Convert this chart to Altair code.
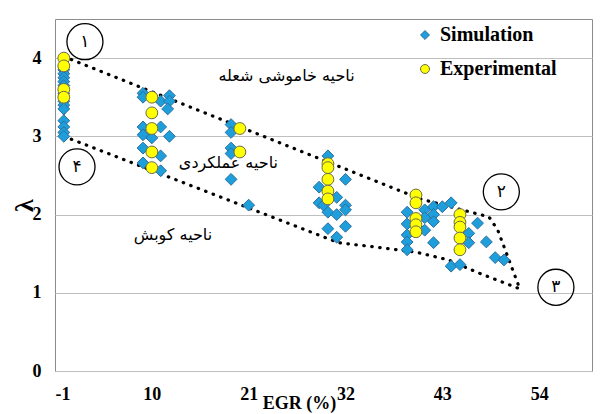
import altair as alt
import pandas as pd

# ---- data ----
sim_x = [0, 0, 0, 0, 0, 0, 0, 0, 0, 0, 0, 0, 0,
         9, 9, 11, 12, 12, 11.8, 9, 9, 11, 10, 12, 9, 11, 9, 11,
         19, 19, 19, 19, 19, 21,
         30, 32, 29, 29, 29.5, 31, 32, 30, 31, 32, 30, 32, 31,
         39, 39, 39, 39, 39, 41, 41, 41, 42, 42, 42, 42, 43, 44,
         46, 46, 47, 48, 49, 50, 44, 45]
sim_y = [3.85, 3.8, 3.75, 3.7, 3.65, 3.55, 3.45, 3.4, 3.35, 3.2, 3.12, 3.05, 3.0,
         3.55, 3.5, 3.45, 3.52, 3.45, 3.35, 3.12, 3.02, 3.12, 2.98, 3.0, 2.85, 2.75, 2.66, 2.56,
         3.15, 3.05, 2.85, 2.78, 2.45, 2.12,
         2.75, 2.45, 2.35, 2.15, 2.12, 2.22, 2.12, 2.03, 2.0, 2.06, 1.82, 1.85, 1.71,
         2.03, 1.88, 1.74, 1.65, 1.55, 2.06, 1.96, 1.8, 2.1, 2.0, 1.91, 1.64, 2.1, 2.15,
         1.76, 1.64, 1.89, 1.65, 1.45, 1.42, 1.34, 1.36]
exp_x = [0, 0, 0, 0,
         10, 10, 10, 10, 10,
         20, 20,
         30, 30, 30, 30, 30,
         40, 40, 40, 40, 40,
         45, 45, 45, 45, 45]
exp_y = [4.0, 3.9, 3.6, 3.5,
         3.5, 3.3, 3.1, 2.8, 2.6,
         3.1, 2.8,
         2.65, 2.6, 2.45, 2.3, 2.2,
         2.25, 2.15, 1.95, 1.87, 1.78,
         2.0, 1.9, 1.84, 1.7, 1.55]

series_names = ["Simulation", "Experimental"]

# dotted region boundary (in data units)
bound_x = [0, 40.5, 48.3, 49.3, 51.8, 47.2, 43.7, 40, 35, 31.2, 0, 0]
bound_y = [4.02, 2.2, 1.97, 1.8, 1.05, 1.25, 1.42, 1.52, 1.59, 1.64, 3.0, 4.02]

# region labels
region_text = ["ناحیه خاموشی شعله", "ناحیه عملکردی", "ناحیه کوبش"]
region_x = [25.3, 18.7, 12.4]
region_y = [3.77, 2.66, 1.74]

# numbered circles
num_text = ["۱", "۴", "۲", "۳"]
num_x = [2.4, 1.5, 49.7, 55.9]
num_y = [4.21, 2.61, 2.29, 1.07]

x_ticks = [-1, 10, 21, 32, 43, 54]
y_ticks = [0, 0.5, 1, 1.5, 2, 2.5, 3, 3.5, 4, 4.5]

# ---- tables ----
pts = pd.DataFrame({
    "x": sim_x + exp_x,
    "y": sim_y + exp_y,
    "series": ["Simulation"] * len(sim_x) + ["Experimental"] * len(exp_x),
})
bound = pd.DataFrame({"x": bound_x, "y": bound_y, "o": list(range(len(bound_x)))})
regions = pd.DataFrame({"x": region_x, "y": region_y, "t": region_text})
nums = pd.DataFrame({"x": num_x, "y": num_y, "t": num_text})

SERIF = "Liberation Serif"

xscale = alt.Scale(domain=[-1, 60], nice=False, zero=False)
yscale = alt.Scale(domain=[0, 4.5], nice=False)

xenc = alt.X("x:Q", scale=xscale, axis=alt.Axis(
    values=x_ticks, title="EGR (%)", grid=False, ticks=False, domain=False,
    labelExpr="'' + datum.value", labelFont=SERIF, labelFontSize=18,
    labelFontWeight="bold", labelColor="black", labelPadding=14,
    titleFont=SERIF, titleFontSize=18, titleFontWeight="bold", titleColor="black",
    titleX=244, titleY=32, titleBaseline="middle", titleAnchor=None))
yenc = alt.Y("y:Q", scale=yscale, axis=alt.Axis(
    values=y_ticks, title="λ", grid=True, gridColor="#bfbfbf", gridWidth=1,
    ticks=False, domain=False,
    labelExpr="'' + datum.value", labelFont=SERIF, labelFontSize=18,
    labelFontWeight="bold", labelColor="black", labelPadding=14,
    titleFont=SERIF, titleFontSize=26, titleFontWeight="bold", titleColor="black",
    titleX=-31, titleY=186, titleBaseline="middle", titleAlign="center"))

line = alt.Chart(bound).mark_line(
    color="black", strokeWidth=3.2, strokeDash=[0.5, 7.5], strokeCap="round"
).encode(x=alt.X("x:Q", scale=xscale), y=alt.Y("y:Q", scale=yscale), order="o:Q")

leg = alt.Legend(title=None, orient="none", legendX=360, legendY=6,
                 labelFont=SERIF, labelFontSize=20, labelFontWeight="bold",
                 labelColor="black", symbolSize=80, rowPadding=14, labelOffset=5,
                 symbolStrokeWidth=1)

points = alt.Chart(pts).mark_point(filled=True, opacity=1, size=140, strokeWidth=1).encode(
    x=xenc, y=yenc,
    shape=alt.Shape("series:N", scale=alt.Scale(domain=series_names, range=["diamond", "circle"]), legend=leg),
    fill=alt.Fill("series:N", scale=alt.Scale(domain=series_names, range=["#1e9fdc", "#ffff00"]), legend=leg),
    stroke=alt.Stroke("series:N", scale=alt.Scale(domain=series_names, range=["#2b6f9e", "#6b6b4a"]), legend=leg),
)

region_layer = alt.Chart(regions).mark_text(
    font="DejaVu Sans", fontSize=16, color="black"
).encode(x=alt.X("x:Q", scale=xscale), y=alt.Y("y:Q", scale=yscale), text="t:N")

circles = alt.Chart(nums).mark_point(
    shape="circle", size=1300, filled=False, color="black", strokeWidth=1.3, opacity=1
).encode(x=alt.X("x:Q", scale=xscale), y=alt.Y("y:Q", scale=yscale))

num_layer = alt.Chart(nums).mark_text(
    font="DejaVu Sans", fontSize=17, color="black"
).encode(x=alt.X("x:Q", scale=xscale), y=alt.Y("y:Q", scale=yscale), text="t:N")

chart = alt.layer(line, points, region_layer, circles, num_layer).properties(
    width=537, height=352,
    autosize=alt.AutoSizeParams(type="none"),
    padding={"left": 47, "top": 11, "right": 14, "bottom": 43},
).configure_view(stroke="#8c8c8c", strokeWidth=1)

chart.save("out.html", embed_options={"renderer": "svg", "actions": False})
